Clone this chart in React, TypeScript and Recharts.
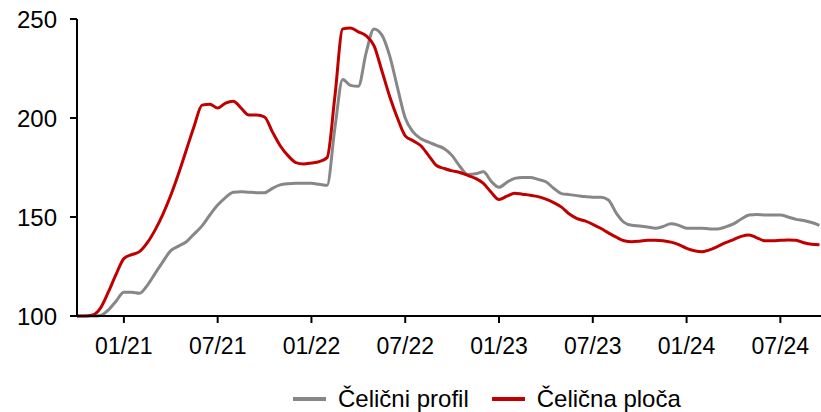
import React from "react";
import { LineChart, Line, XAxis, YAxis } from "recharts";

// half-month index starting at 10/2020
const halfMonth: number[] = Array.from({ length: 96 }, (_, i) => i);

const profil: number[] = [
  100, 100, 100, 100.3, 103, 107.5, 112, 112, 111.5, 115.5,
  121.5, 127.5, 133, 135.3, 137.5, 141.5, 145.5, 151, 156, 159.8,
  162.5, 162.8, 162.5, 162.3, 162.3, 164.5, 166.2, 166.8, 167, 167,
  167, 166.5, 166, 195, 219.5, 216.5, 216, 233, 245, 242,
  231.5, 215.5, 200, 193, 189.5, 187.8, 186.2, 184.5, 181, 175.5,
  171.5, 171.8, 172.8, 168, 165, 167.5, 169.5, 170, 170, 169,
  167.8, 164.5, 161.8, 161.3, 160.8, 160.3, 160, 160, 158.6, 152,
  147.3, 145.8, 145.5, 145, 144.3, 145.2, 146.6, 145.8, 144.3, 144.3,
  144.3, 144, 144, 145, 146.5, 149, 151, 151.2, 151, 151,
  151, 150, 148.8, 148.2, 147.2, 145.8,
];

const ploca: number[] = [
  100, 100, 100.5, 104, 112, 121, 129, 131, 132.5, 137,
  143.5, 151.5, 161, 172, 184, 196, 206.5, 207, 205, 207.5,
  208.5, 205, 201.5, 201.5, 200.5, 193, 186, 181, 177.5, 176.8,
  177.3, 178, 180, 211, 245, 245.5, 243.5, 241.5, 236.5, 224,
  211, 200, 191, 188.5, 186, 181, 176, 174.5, 173.3, 172.5,
  171, 169.5, 167, 162.5, 158.8, 160.5, 162, 161.5, 161, 160.3,
  159, 157.3, 155, 151.5, 149.2, 148, 146.3, 144.3, 142, 139.8,
  138, 137.5, 137.8, 138.3, 138.3, 138, 137.3, 136, 134.2, 133,
  132.5, 133.5, 135.2, 137, 138.6, 140.2, 140.9, 139.5, 138, 138,
  138.2, 138.4, 138.2, 137, 136.2, 136,
];

const tickPositions: number[] = [6, 18, 30, 42, 54, 66, 78, 90];
const tickLabels: string[] = ["01/21", "07/21", "01/22", "07/22", "01/23", "07/23", "01/24", "07/24"];
const yTicks: number[] = [100, 150, 200, 250];

const seriesNames = ["Čelični profil", "Čelična ploča"];
const seriesColors = ["#878787", "#C00000"];

const data = halfMonth.map((t, i) => ({ t, profil: profil[i], ploca: ploca[i] }));

const FONT = "'Liberation Sans', Arial, sans-serif";

export default function App() {
  return (
    <div style={{ position: "absolute", left: 0, top: 0, width: 821, height: 412, fontFamily: FONT }}>
      <LineChart width={821} height={412} data={data} margin={{ top: 19, right: 0, bottom: 0, left: 0 }}>
        <XAxis
          dataKey="t"
          type="number"
          domain={[0, 95.2]}
          allowDataOverflow
          ticks={tickPositions}
          tickFormatter={(v: number) => tickLabels[tickPositions.indexOf(v)] ?? ""}
          height={96}
          tickSize={7}
          tickMargin={15}
          axisLine={{ stroke: "#000", strokeWidth: 2 }}
          tickLine={{ stroke: "#000", strokeWidth: 2 }}
          tick={{ fill: "#000", fontSize: 23, fontFamily: FONT }}
          interval={0}
        />
        <YAxis
          domain={[100, 250]}
          ticks={yTicks}
          width={77}
          tickSize={7}
          tickMargin={13}
          axisLine={{ stroke: "#000", strokeWidth: 2 }}
          tickLine={{ stroke: "#000", strokeWidth: 2 }}
          tick={{ fill: "#000", fontSize: 24, fontFamily: FONT }}
          interval={0}
        />
        <Line type="monotone" dataKey="profil" name={seriesNames[0]} stroke={seriesColors[0]} strokeWidth={3} dot={false} isAnimationActive={false} />
        <Line type="monotone" dataKey="ploca" name={seriesNames[1]} stroke={seriesColors[1]} strokeWidth={3} dot={false} isAnimationActive={false} />
      </LineChart>
      <div
        style={{
          position: "absolute",
          left: 293,
          top: 385,
          display: "flex",
          alignItems: "center",
          fontSize: 24,
          fontFamily: FONT,
          color: "#000",
          whiteSpace: "nowrap",
          lineHeight: "28px",
        }}
      >
        {seriesNames.map((name, i) => (
          <div key={name} style={{ display: "flex", alignItems: "center", marginRight: i === 0 ? 23 : 0 }}>
            <div style={{ width: 33, height: 4, background: seriesColors[i], marginRight: 12 }} />
            <span>{name}</span>
          </div>
        ))}
      </div>
    </div>
  );
}
